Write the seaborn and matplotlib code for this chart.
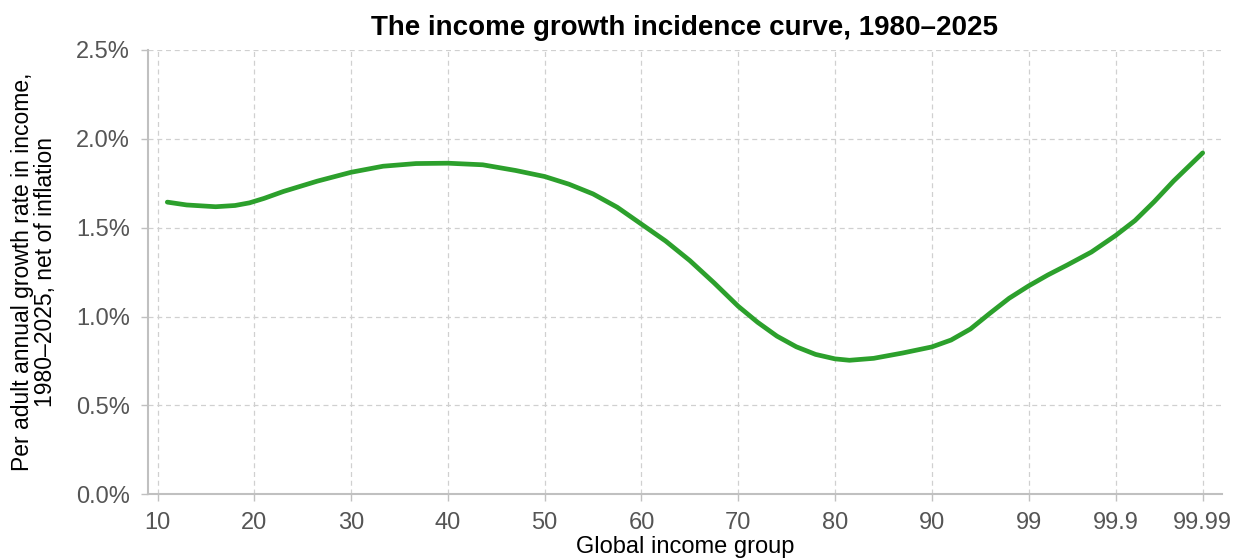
import matplotlib
matplotlib.use("Agg")
import matplotlib.pyplot as plt
import pandas as pd
import seaborn as sns

# tick positions on the x axis (rank-style, top percentiles are squeezed)
tick_pos = [10, 20, 30, 40, 50, 60, 70, 80, 90, 100, 109, 118]
tick_labels = ["10", "20", "30", "40", "50", "60", "70", "80", "90", "99", "99.9", "99.99"]

# curve (x = position on the axis, y = growth in %)
group_pos = [11, 13, 16, 18, 19.5, 21, 23, 26.5, 30, 33.3, 36.7, 40, 43.6, 47, 50,
             52.5, 55, 57.5, 60, 62.5, 65, 67.5, 70, 72, 74, 76, 78, 80, 81.5, 84,
             87, 90, 92, 94, 96, 98, 100, 102, 104, 106.5, 109, 111, 113, 115, 118]
growth = [1.644, 1.628, 1.618, 1.625, 1.640, 1.665, 1.704, 1.762, 1.812, 1.846,
          1.861, 1.863, 1.854, 1.822, 1.788, 1.745, 1.69, 1.615, 1.52, 1.425,
          1.315, 1.19, 1.058, 0.968, 0.89, 0.83, 0.787, 0.762, 0.754, 0.765,
          0.795, 0.829, 0.868, 0.93, 1.018, 1.103, 1.172, 1.234, 1.29, 1.363,
          1.456, 1.54, 1.647, 1.763, 1.921]

df = pd.DataFrame({"pos": group_pos, "growth": growth})

sns.set_theme(style="whitegrid")
plt.rcParams["font.family"] = ["Liberation Sans", "DejaVu Sans"]

fig = plt.figure(figsize=(12.35, 5.58), dpi=100)
ax = fig.add_axes([0.1198, 0.1142, 0.8697, 0.7962])

sns.lineplot(data=df, x="pos", y="growth", ax=ax, color="#2ca02c", linewidth=3.4)

ax.set_xlim(9, 120)
ax.set_ylim(0, 2.5)
ax.set_xticks(tick_pos)
ax.set_xticklabels(tick_labels)
ax.set_yticks([0, 0.5, 1.0, 1.5, 2.0, 2.5])
ax.set_yticklabels([f"{v:.1f}%" for v in [0, 0.5, 1.0, 1.5, 2.0, 2.5]])

ax.grid(True, color="#d0d0d0", linestyle=(0, (4, 3)), linewidth=0.9)
for side in ["top", "right"]:
    ax.spines[side].set_visible(False)
for side in ["left", "bottom"]:
    ax.spines[side].set_visible(True)
    ax.spines[side].set_color("#c0c0c0")
    ax.spines[side].set_linewidth(1.5)

ax.tick_params(axis="both", which="major", length=5, width=1, color="#c0c0c0",
               labelsize=17, labelcolor="#555555", bottom=True, left=True)
ax.tick_params(axis="y", pad=8)
ax.tick_params(axis="x", pad=8)

ax.set_title("The income growth incidence curve, 1980–2025", fontsize=20,
             fontweight="bold", color="black", pad=11)
ax.set_xlabel("Global income group", fontsize=17, color="black", labelpad=1)
ax.set_ylabel("Per adult annual growth rate in income,\n1980–2025, net of inflation",
              fontsize=16.5, color="black", linespacing=1.0)
ax.yaxis.set_label_coords(-0.085, 0.5)

fig.savefig("out.png", dpi=100)
